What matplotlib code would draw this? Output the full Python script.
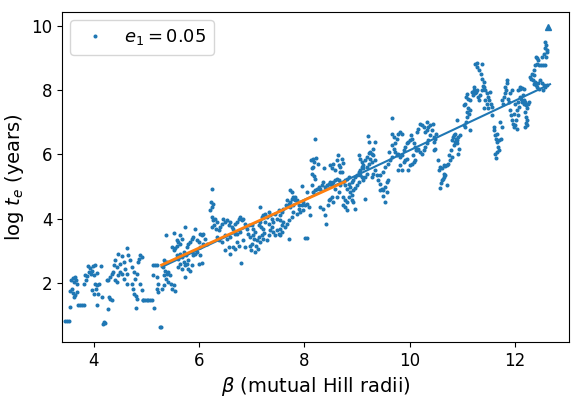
import matplotlib
matplotlib.use("Agg")
import matplotlib.pyplot as plt
import numpy as np

# (beta, log t_e) pairs, grouped by beta range
pts_a = [(3.46,0.80),(3.50,0.81),(3.54,0.82),(3.55,1.24),(3.57,2.09),(3.60,2.14),(3.64,2.18),(3.67,2.10),
         (3.63,2.02),(3.68,1.97),(3.59,1.81),(3.55,1.74),(3.60,1.69),(3.65,1.62),(3.69,1.71),(3.62,1.55),
         (3.71,1.32),(3.74,1.32),(3.78,1.32),(3.81,1.32),(3.84,2.25),(3.87,2.21),(3.86,2.07),(3.82,1.97),
         (3.90,2.51),(3.93,2.46),(3.96,2.38),(3.98,2.51),(4.02,2.54),(3.92,2.33),(3.95,2.26),(4.00,2.23),
         (4.06,2.30),(4.03,1.97),(4.07,1.92),(4.11,1.95),(4.05,1.81),(3.96,1.76),(4.09,1.66),(4.00,1.66),
         (4.16,1.55),(4.06,1.32),(4.14,2.52),(4.19,0.77),(4.22,0.74),(4.17,0.72),(4.28,1.17),(4.31,1.50),
         (4.34,1.45),(4.30,1.55),(4.25,2.07),(4.28,2.09),(4.31,2.18),(4.34,2.28),(4.36,2.33),(4.38,2.54),
         (4.41,2.70),(4.44,2.49),(4.47,2.88),(4.50,2.59),(4.53,2.82),(4.57,2.64),(4.60,2.44),(4.63,3.09),
         (4.66,2.85),(4.69,2.70),(4.63,2.28),(4.53,2.28),(4.47,2.23),(4.41,2.07),(4.44,2.02),(4.50,2.33),
         (4.57,2.12),(4.63,1.97),(4.72,2.49),(4.76,2.33),(4.79,2.12),(4.82,2.28),(4.88,2.85),(4.91,2.80),
         (4.85,2.64),(4.87,2.75),(4.72,1.97),(4.74,1.81),(4.77,1.66),(4.81,1.60),(4.83,1.50),(4.88,1.97),
         (4.91,1.76),(4.93,1.45),(4.81,1.22),(4.94,1.45),(4.98,1.45),(5.01,1.45),(5.04,1.45),(5.07,1.45),
         (5.10,1.45),(5.12,2.54),(5.17,2.56),(5.21,2.56),(5.12,2.23),(5.20,2.18),(5.23,1.97),(5.20,1.81),
         (5.22,1.71),(5.15,1.22),(5.25,0.62),(5.28,0.62)]

pts_b = [(5.33,2.70),(5.36,2.64),(5.39,2.66),(5.31,2.49),(5.36,2.38),(5.33,2.23),(5.39,2.28),(5.42,2.33),
         (5.45,2.23),(5.38,2.12),(5.42,2.02),(5.46,1.97),(5.52,1.92),(5.55,1.73),(5.48,1.81),(5.34,1.92),
         (5.29,1.81),(5.48,3.11),(5.52,3.01),(5.55,3.08),(5.58,3.16),(5.61,3.27),(5.64,3.22),(5.59,3.32),
         (5.53,3.56),(5.63,3.48),(5.67,3.37),(5.74,3.74),(5.38,3.50),(5.58,2.85),(5.61,2.75),(5.64,2.90),
         (5.67,2.80),(5.71,2.64),(5.64,2.59),(5.61,2.49),(5.67,2.44),(5.74,2.54),(5.77,2.59),(5.80,2.70),
         (5.76,2.85),(5.71,2.96),(5.77,3.11),(5.80,3.22),(5.83,3.27),(5.86,3.37),(5.89,3.42),(5.93,3.68),
         (5.96,3.32),(5.99,3.27),(6.02,3.53),(6.05,3.48),(6.08,3.53),(6.12,3.37),(6.02,3.11),(6.08,3.22),
         (6.15,3.22),(5.86,2.96),(5.89,2.85),(5.93,2.90),(5.96,2.96),(6.02,2.85),(5.99,2.59),(6.05,2.62),
         (5.80,2.44),(5.83,2.38),(5.74,2.18),(5.86,2.54),(6.24,4.93),(6.22,4.52),(6.26,4.46),(6.24,4.36),
         (6.21,4.26),(6.24,4.05),(6.27,3.94),(6.31,4.00),(6.34,3.89),(6.29,3.79),(6.24,3.74),(6.32,3.68),
         (6.37,3.63),(6.40,3.74),(6.43,3.84),(6.46,4.00),(6.50,3.89),(6.53,3.94),(6.56,3.79),(6.59,3.89),
         (6.62,3.74),(6.65,3.68),(6.69,3.84),(6.72,3.89),(6.75,4.00),(6.78,4.05),(6.81,3.94),(6.84,4.00),
         (6.88,3.84),(6.91,3.68),(6.94,3.79),(6.92,3.53),(6.96,3.42),(6.97,3.16),(6.34,3.42),(6.37,3.32),
         (6.43,3.27),(6.50,3.48),(6.53,3.37),(6.59,3.42),(6.56,3.11),(6.50,3.01),(6.59,2.90),(6.65,3.11),
         (6.69,3.06),(6.72,3.27),(6.75,3.16),(6.78,3.58),(6.84,3.32),(6.88,3.11),(6.79,2.62),(6.69,3.53),
         (6.72,3.53)]

pts_c = [(7.00,3.79),(7.03,3.68),(7.06,3.58),(7.02,3.48),(7.05,3.37),(7.10,3.32),(7.13,3.42),(7.16,3.27),
         (7.08,3.14),(7.11,3.06),(7.06,2.96),(7.00,3.22),(6.98,3.01),(7.13,3.79),(7.16,3.89),(7.19,4.05),
         (7.22,4.10),(7.25,4.15),(7.15,4.36),(7.17,3.74),(7.21,3.66),(7.24,3.56),(7.19,3.48),(7.22,3.37),
         (7.29,3.32),(7.32,3.48),(7.35,3.63),(7.38,3.74),(7.41,3.58),(7.44,3.48),(7.48,3.63),(7.51,3.53),
         (7.54,3.68),(7.57,3.79),(7.60,3.89),(7.53,3.94),(7.48,4.00),(7.41,3.89),(7.38,4.00),(7.35,4.10),
         (7.32,4.20),(7.29,4.05),(7.25,3.89),(7.32,3.84),(7.44,4.15),(7.51,4.26),(7.54,4.10),(7.57,4.20),
         (7.60,4.31),(7.65,4.41),(7.67,4.57),(7.70,4.46),(7.73,4.52),(7.76,4.62),(7.79,4.67),(7.82,4.57),
         (7.72,4.88),(7.76,4.83),(7.82,4.67),(7.86,4.57),(7.89,4.41),(7.92,4.20),(7.95,5.01),(7.89,4.31),
         (7.86,4.15),(7.79,4.20),(7.76,4.05),(7.70,3.94),(7.67,3.84),(7.63,3.74),(7.57,3.58),(7.54,3.48),
         (7.71,3.35),(7.73,4.36),(7.79,4.41),(7.95,4.41),(7.98,4.26),(8.01,4.41),(8.04,4.46),(8.08,4.36),
         (8.10,4.10),(8.01,3.40),(8.04,3.40),(7.98,4.52),(8.04,4.83),(8.14,5.04),(8.17,4.83),(8.20,4.88),
         (8.23,4.93),(8.27,4.98),(8.30,4.93),(8.33,5.04),(8.36,5.14),(8.39,4.98),(8.42,5.04),(8.46,5.09),
         (8.49,5.14),(8.52,5.04),(8.55,5.14),(8.58,5.19),(8.61,5.24),(8.65,5.19),(8.30,4.36),(8.36,4.31),
         (8.39,4.10),(8.41,3.84),(8.44,4.41),(8.46,4.57),(8.49,4.62),(8.52,4.67),(8.55,4.52),(8.61,4.67),
         (8.58,4.93),(8.65,4.83),(8.68,5.04),(8.12,5.82),(8.16,5.85),(8.18,5.76),(8.22,5.89),(8.25,5.71),
         (8.16,5.61),(8.14,5.40),(8.18,5.33),(8.20,5.24),(8.37,5.56),(8.48,5.66),(8.52,5.56),(8.58,5.50),
         (8.61,5.82),(8.63,5.99),(8.55,5.71),(8.65,5.66),(8.68,5.45),(8.20,6.47),(8.14,5.56)]

pts_d = [(8.71,5.87),(8.73,5.73),(8.68,5.61),(8.71,5.45),(8.74,5.14),(8.77,5.19),(8.80,5.24),(8.84,5.30),
         (8.77,5.04),(8.80,4.93),(8.84,5.09),(8.87,4.98),(8.90,5.14),(8.93,5.19),(8.96,5.30),(8.99,5.35),
         (9.03,5.45),(9.06,5.50),(9.09,5.61),(9.12,5.56),(9.06,5.35),(9.09,5.30),(9.12,5.19),(9.15,5.30),
         (9.18,5.40),(8.87,4.83),(8.90,4.72),(8.84,4.67),(8.80,4.52),(8.77,4.57),(8.74,4.67),(8.90,4.57),
         (8.93,4.88),(8.96,4.96),(8.99,5.04),(9.03,5.14),(8.93,4.52),(8.80,4.26),(8.96,4.31),(8.74,4.41),
         (8.77,4.36),(9.03,5.97),(9.06,5.87),(9.09,5.76),(9.12,5.66),(9.15,5.82),(9.18,5.92),(9.22,6.05),
         (9.25,6.08),(9.28,6.02),(9.31,5.97),(9.25,5.87),(9.22,5.71),(9.18,5.61),(9.28,5.76),(9.34,5.82),
         (9.20,6.56),(9.23,6.39),(9.34,6.39),(9.31,6.18),(9.15,4.62),(9.28,5.30),(9.31,5.40),(9.34,5.50),
         (9.37,5.35),(9.40,5.19),(9.44,5.09),(9.47,4.93),(9.50,4.88),(9.53,4.98),(9.56,5.14),(9.59,5.19),
         (9.44,4.88),(9.50,4.69),(9.53,4.52),(9.56,4.83),(9.44,5.35),(9.50,5.45),(9.53,5.61),(9.59,5.71),
         (9.63,5.82),(9.66,5.92),(9.61,6.08),(9.66,6.65),(9.69,6.54),(9.72,6.34),(9.75,6.49),(9.78,6.65),
         (9.82,6.70),(9.85,6.65),(9.66,6.28),(9.69,6.18),(9.72,6.08),(9.75,5.97),(9.78,6.02),(9.82,5.92),
         (9.85,5.97),(9.88,6.13),(9.91,6.23),(9.94,6.34),(9.97,6.39),(10.01,6.44),(10.04,6.49),(10.02,6.60),
         (10.07,6.34),(10.10,6.23),(10.13,6.13),(10.16,6.18),(10.20,6.08),(10.23,6.02),(10.26,6.13),(10.29,6.23),
         (10.32,6.34),(10.35,6.44),(10.13,6.70),(10.16,6.80),(10.20,6.96),(10.23,6.91),(10.26,6.86),(10.29,6.70),
         (10.32,6.75),(10.35,6.86),(10.32,7.01),(10.39,6.60),(9.66,7.12),(9.82,5.66),(9.85,5.50),(9.78,5.50),
         (9.88,5.76),(9.91,5.82),(9.94,5.87),(9.97,5.50),(10.01,5.66),(10.04,5.71),(10.07,5.76),(10.10,5.82),
         (10.06,5.97),(10.12,6.13)]

pts_e = [(10.39,6.91),(10.42,6.75),(10.44,6.96),(10.45,6.54),(10.48,6.49),(10.46,6.39),(10.50,6.65),(10.48,6.18),
         (10.45,6.13),(10.54,5.82),(10.58,5.61),(10.61,5.56),(10.56,5.50),(10.64,5.66),(10.67,5.63),(10.70,5.66),
         (10.73,5.71),(10.64,5.40),(10.65,5.30),(10.63,5.24),(10.61,5.19),(10.59,5.11),(10.58,4.96),(10.70,5.04),
         (10.67,5.35),(10.76,5.82),(10.80,5.92),(10.75,5.97),(10.78,6.13),(10.82,6.54),(10.83,6.60),(10.86,6.65),
         (10.88,6.49),(10.89,6.44),(10.92,6.54),(10.95,6.60),(10.90,6.34),(10.94,6.18),(10.92,6.02),(10.86,6.39),
         (10.80,6.44),(10.83,6.28),(10.90,7.06),(11.02,6.91),(11.05,6.86),(11.07,7.01),(11.14,6.77),(11.08,7.17),
         (11.09,7.32),(11.11,7.43),(11.13,7.27),(11.14,7.38),(11.05,7.58),(11.02,7.53),(11.07,7.79),(11.08,7.88),
         (11.11,7.74),(11.14,7.69),(11.18,7.95),(11.21,8.00),(11.24,7.90),(11.19,7.84),(11.22,8.10),(11.26,7.95),
         (11.28,8.00),(11.30,7.79),(11.32,7.69),(11.33,7.84),(11.37,8.00),(11.38,8.13),(11.40,8.26),(11.37,8.36),
         (11.35,8.52),(11.32,8.62),(11.28,8.73),(11.24,8.83),(11.27,8.85),(11.37,8.83),(11.40,8.10),(11.43,8.00),
         (11.46,7.90),(11.49,7.79),(11.52,7.95),(11.51,7.69),(11.54,7.58),(11.56,7.48),(11.49,7.43),(11.46,7.58),
         (11.43,7.69),(11.41,7.43),(11.56,7.22),(11.59,6.86),(11.60,6.75),(11.62,6.60),(11.64,6.49),(11.66,6.39),
         (11.70,6.44),(11.73,6.49),(11.68,6.23),(11.70,6.15),(11.66,6.08),(11.64,5.90),(11.62,6.02),(11.65,6.65),
         (11.71,7.01),(11.75,6.86),(11.75,7.69),(11.78,7.79),(11.81,7.90),(11.83,8.00),(11.84,8.21),(11.85,8.33),
         (11.81,8.10),(11.76,7.58),(11.87,7.74),(11.89,7.64),(11.90,7.38),(11.92,7.22),(11.93,7.06),(11.95,6.96),
         (11.97,6.86),(12.00,6.91),(12.03,6.80),(12.02,7.06),(12.06,7.22),(12.04,7.38),(12.08,7.48),(12.06,7.64),
         (12.09,7.79),(12.06,8.00),(12.09,8.05),(12.00,7.58),(11.97,7.27),(11.90,7.90),(11.93,8.00)]

pts_f = [(12.09,8.10),(12.12,8.07),(12.16,8.03),(12.14,7.84),(12.17,7.69),(12.19,7.62),(12.21,7.53),(12.22,7.43),
         (12.25,7.58),(12.27,7.62),(12.11,7.74),(12.12,7.62),(12.16,7.58),(12.19,7.32),(12.21,7.17),(12.22,7.06),
         (12.21,6.99),(12.23,6.91),(12.19,6.86),(12.28,8.42),(12.31,8.52),(12.30,8.36),(12.35,8.47),(12.33,8.31),
         (12.38,8.26),(12.40,8.16),(12.42,8.10),(12.46,8.03),(12.44,8.21),(12.47,8.31),(12.50,8.21),(12.54,8.16),
         (12.57,8.10),(12.60,8.16),(12.52,8.00),(12.35,8.18),(12.36,8.62),(12.38,8.78),(12.41,8.83),(12.42,9.01),
         (12.40,9.04),(12.44,8.94),(12.46,8.78),(12.49,8.80),(12.52,8.78),(12.57,8.78),(12.50,9.04),(12.54,9.14),
         (12.57,9.30),(12.59,9.40),(12.57,9.51),(12.60,9.20),(12.61,9.25),(12.59,9.04)]

# single point drawn as a triangle (upper limit)
tri_beta = [12.63]
tri_logt = [9.97]

# fitted lines: (slope, intercept, beta_start, beta_end)
fit_all = (0.773, -1.60, 5.29, 12.66)
fit_mid = (0.747, -1.40, 5.29, 8.77)

legend_label = r"$e_1 = 0.05$"

pts = pts_a + pts_b + pts_c + pts_d + pts_e + pts_f
beta = np.array([p[0] for p in pts])
logt = np.array([p[1] for p in pts])

fig = plt.figure(figsize=(5.81, 3.98), dpi=100)
ax = fig.add_axes([62/581, 1-342/398, (569-62)/581, (342-12)/398])

blue = "#1f77b4"
orange = "#ff7f0e"
ax.plot(beta, logt, "o", ls="none", ms=1.9, color=blue, label=legend_label)
ax.plot(tri_beta, tri_logt, "^", ls="none", ms=5, color=blue)

s, b, x0, x1 = fit_all
xx = np.array([x0, x1])
ax.plot(xx, s*xx + b, color=blue, lw=1.5)
s, b, x0, x1 = fit_mid
xx = np.array([x0, x1])
ax.plot(xx, s*xx + b, color=orange, lw=2)

ax.set_xlim(3.40, 13.02)
ax.set_xticks([4, 6, 8, 10, 12])
ax.set_yticks([2, 4, 6, 8, 10])
ax.tick_params(labelsize=12)
ax.set_xlabel(r"$\beta$ (mutual Hill radii)", fontsize=14)
ax.set_ylabel(r"log $t_e$ (years)", fontsize=14)
ax.legend(loc="upper left", fontsize=13, markerscale=1.0, handletextpad=0.6,
          borderaxespad=0.45)

fig.savefig("out.png", dpi=100)
